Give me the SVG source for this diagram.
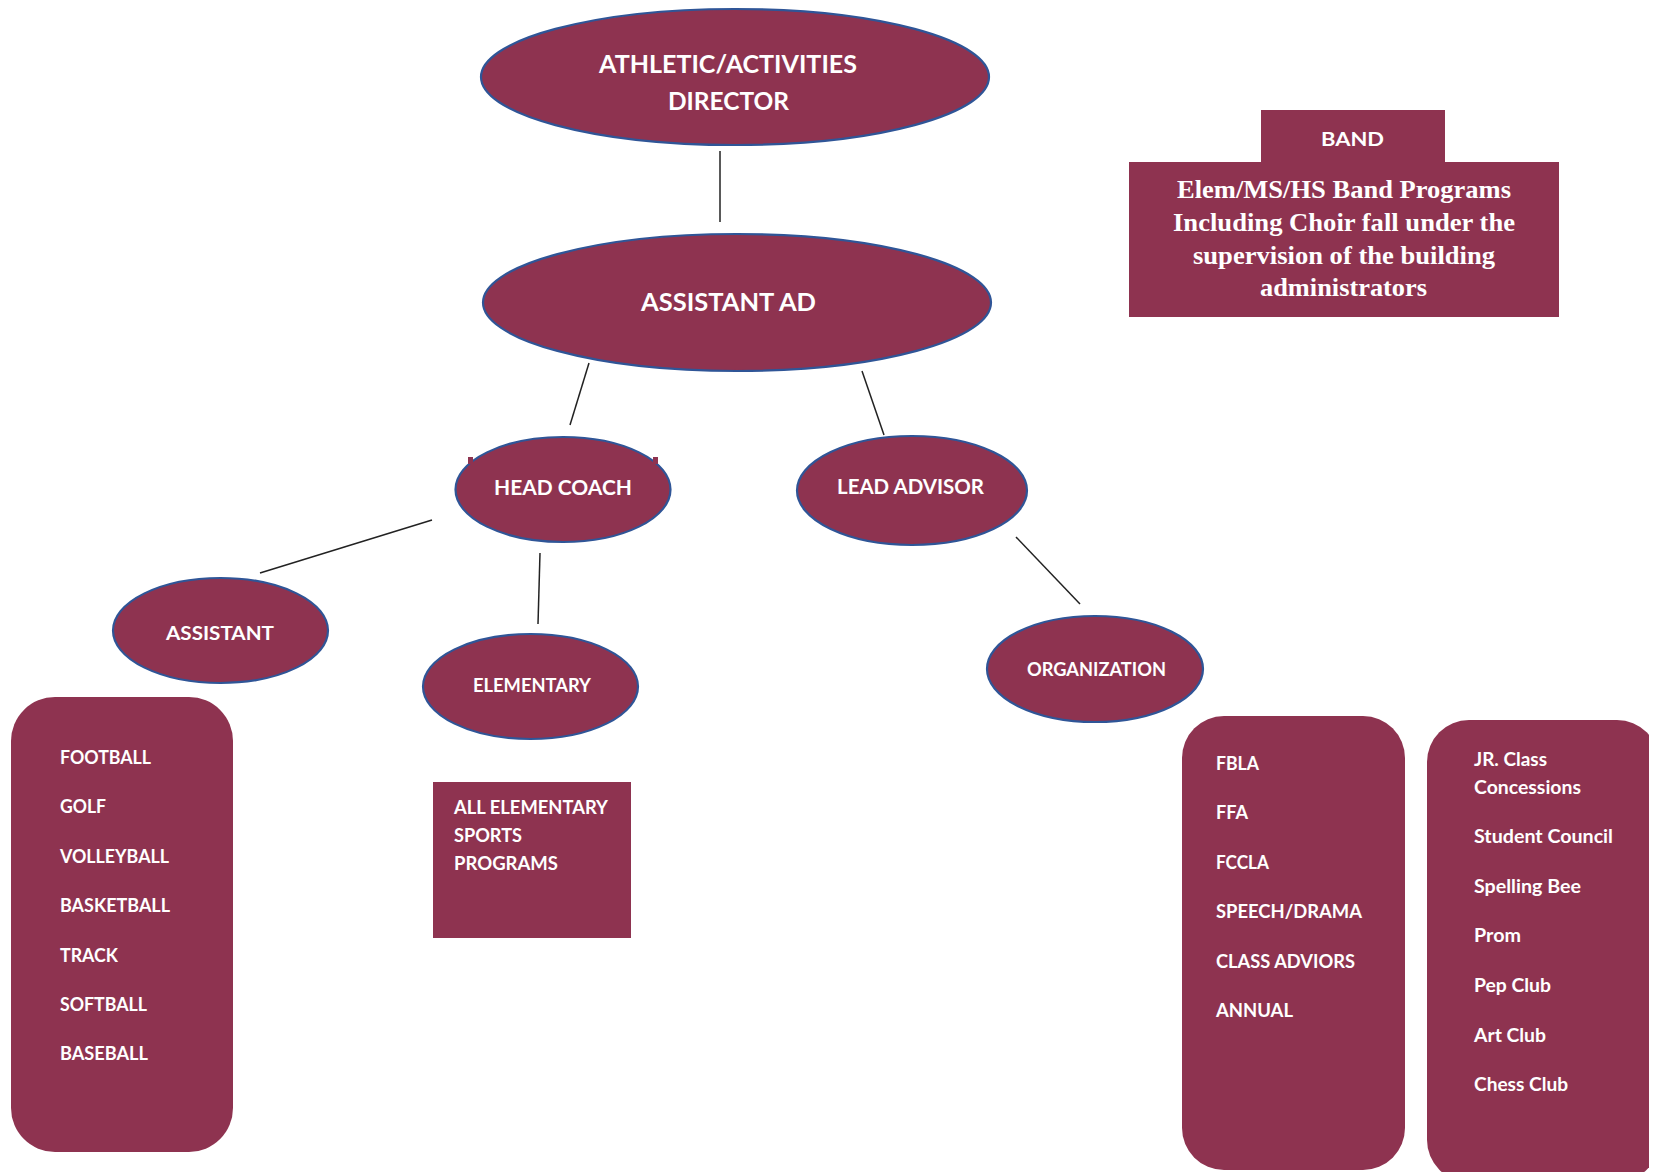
<svg xmlns="http://www.w3.org/2000/svg" width="1654" height="1172" viewBox="0 0 1654 1172">
<style>
.node{fill:#8E3350;stroke:#2F5597;stroke-width:2.2}
.box{fill:#8E3350}
.t{fill:#FFFFFF;font-family:Lato,"Open Sans","Liberation Sans",sans-serif;font-weight:bold}
.s{fill:#FFFFFF;font-family:"Liberation Serif","Times New Roman",serif;font-weight:bold;font-size:25px}
.c{stroke:#222;stroke-width:1.5;fill:none}
.mid{text-anchor:middle}
.l{font-size:18.5px}
</style>
<defs>
<clipPath id="clipR"><rect x="0" y="0" width="1649" height="1172"/></clipPath>
</defs>
<rect width="1654" height="1172" fill="#FFFFFF"/>

<g id="connectors">
<line class="c" x1="720" y1="151" x2="720" y2="222"/>
<line class="c" x1="589" y1="363" x2="570" y2="425"/>
<line class="c" x1="862" y1="371" x2="884" y2="435"/>
<line class="c" x1="432" y1="520" x2="260" y2="573"/>
<line class="c" x1="540" y1="553" x2="538" y2="624"/>
<line class="c" x1="1016" y1="537" x2="1080" y2="604"/>
</g>

<g id="director">
<ellipse class="node" cx="735" cy="77" rx="254" ry="68"/>
<text class="t mid" x="728" y="73" font-size="24.5" textLength="258" lengthAdjust="spacingAndGlyphs">ATHLETIC/ACTIVITIES</text>
<text class="t mid" x="728.5" y="110" font-size="24.5" textLength="121" lengthAdjust="spacingAndGlyphs">DIRECTOR</text>
</g>

<g id="assistant-ad">
<ellipse class="node" cx="737" cy="302.5" rx="254" ry="68.5"/>
<text class="t mid" x="728.5" y="311" font-size="25" textLength="175" lengthAdjust="spacingAndGlyphs">ASSISTANT AD</text>
</g>

<g id="head-coach">
<ellipse class="node" cx="563" cy="489.5" rx="107.5" ry="52.5"/>
<rect class="box" x="468" y="457" width="5" height="7"/>
<rect class="box" x="653" y="457" width="5" height="7"/>
<text class="t mid" x="563" y="495" font-size="21.5" textLength="138" lengthAdjust="spacingAndGlyphs">HEAD COACH</text>
</g>

<g id="lead-advisor">
<ellipse class="node" cx="912" cy="490.5" rx="115" ry="54.5"/>
<text class="t mid" x="910.5" y="494" font-size="20.5" textLength="147" lengthAdjust="spacingAndGlyphs">LEAD ADVISOR</text>
</g>

<g id="assistant">
<ellipse class="node" cx="220.5" cy="630.5" rx="107.5" ry="52.5"/>
<text class="t mid" x="220" y="640" font-size="19.5" textLength="108" lengthAdjust="spacingAndGlyphs">ASSISTANT</text>
</g>

<g id="elementary">
<ellipse class="node" cx="530.5" cy="686.5" rx="107.5" ry="52.5"/>
<text class="t mid" x="532" y="692" font-size="18" textLength="118" lengthAdjust="spacingAndGlyphs">ELEMENTARY</text>
</g>

<g id="organization">
<ellipse class="node" cx="1095" cy="669" rx="108" ry="53"/>
<text class="t mid" x="1096.5" y="676" font-size="18.5" textLength="139" lengthAdjust="spacingAndGlyphs">ORGANIZATION</text>
</g>

<g id="band">
<rect class="box" x="1261" y="110" width="184" height="53"/>
<rect class="box" x="1129" y="162" width="430" height="155"/>
<text class="t mid" x="1352.5" y="146" font-size="19.5" textLength="63" lengthAdjust="spacingAndGlyphs">BAND</text>
<text class="s mid" x="1344" y="198" textLength="334" lengthAdjust="spacingAndGlyphs">Elem/MS/HS Band Programs</text>
<text class="s mid" x="1344" y="231" textLength="342" lengthAdjust="spacingAndGlyphs">Including Choir fall under the</text>
<text class="s mid" x="1344" y="264" textLength="302" lengthAdjust="spacingAndGlyphs">supervision of the building</text>
<text class="s mid" x="1343.5" y="296" textLength="167" lengthAdjust="spacingAndGlyphs">administrators</text>
</g>

<g id="sports-list">
<rect class="box" x="11" y="697" width="222" height="455" rx="44" ry="44"/>
<text class="t l" x="60" y="764" textLength="91" lengthAdjust="spacingAndGlyphs">FOOTBALL</text>
<text class="t l" x="60" y="813" textLength="46" lengthAdjust="spacingAndGlyphs">GOLF</text>
<text class="t l" x="60" y="863" textLength="109" lengthAdjust="spacingAndGlyphs">VOLLEYBALL</text>
<text class="t l" x="60" y="912" textLength="110" lengthAdjust="spacingAndGlyphs">BASKETBALL</text>
<text class="t l" x="60" y="962" textLength="58" lengthAdjust="spacingAndGlyphs">TRACK</text>
<text class="t l" x="60" y="1011" textLength="87" lengthAdjust="spacingAndGlyphs">SOFTBALL</text>
<text class="t l" x="60" y="1060" textLength="88" lengthAdjust="spacingAndGlyphs">BASEBALL</text>
</g>

<g id="elementary-programs">
<rect class="box" x="433" y="782" width="198" height="156"/>
<text class="t l" x="454" y="814" textLength="154" lengthAdjust="spacingAndGlyphs">ALL ELEMENTARY</text>
<text class="t l" x="454" y="842" textLength="68" lengthAdjust="spacingAndGlyphs">SPORTS</text>
<text class="t l" x="454" y="870" textLength="104" lengthAdjust="spacingAndGlyphs">PROGRAMS</text>
</g>

<g id="organizations-list">
<rect class="box" x="1182" y="716" width="223" height="454" rx="42" ry="42"/>
<text class="t l" x="1216" y="770" textLength="43" lengthAdjust="spacingAndGlyphs">FBLA</text>
<text class="t l" x="1216" y="819" textLength="32" lengthAdjust="spacingAndGlyphs">FFA</text>
<text class="t l" x="1216" y="869" textLength="53" lengthAdjust="spacingAndGlyphs">FCCLA</text>
<text class="t l" x="1216" y="918" textLength="146" lengthAdjust="spacingAndGlyphs">SPEECH/DRAMA</text>
<text class="t l" x="1216" y="968" textLength="139" lengthAdjust="spacingAndGlyphs">CLASS ADVIORS</text>
<text class="t l" x="1216" y="1017" textLength="77" lengthAdjust="spacingAndGlyphs">ANNUAL</text>
</g>

<g id="clubs-list">
<rect class="box" x="1427" y="720" width="232" height="462" rx="42" ry="42" clip-path="url(#clipR)"/>
<text class="t l" x="1474" y="766" textLength="73" lengthAdjust="spacingAndGlyphs">JR. Class</text>
<text class="t l" x="1474" y="794" textLength="107" lengthAdjust="spacingAndGlyphs">Concessions</text>
<text class="t l" x="1474" y="843" textLength="139" lengthAdjust="spacingAndGlyphs">Student Council</text>
<text class="t l" x="1474" y="893" textLength="107" lengthAdjust="spacingAndGlyphs">Spelling Bee</text>
<text class="t l" x="1474" y="942" textLength="47" lengthAdjust="spacingAndGlyphs">Prom</text>
<text class="t l" x="1474" y="992" textLength="77" lengthAdjust="spacingAndGlyphs">Pep Club</text>
<text class="t l" x="1474" y="1042" textLength="72" lengthAdjust="spacingAndGlyphs">Art Club</text>
<text class="t l" x="1474" y="1091" textLength="94" lengthAdjust="spacingAndGlyphs">Chess Club</text>
</g>
</svg>
